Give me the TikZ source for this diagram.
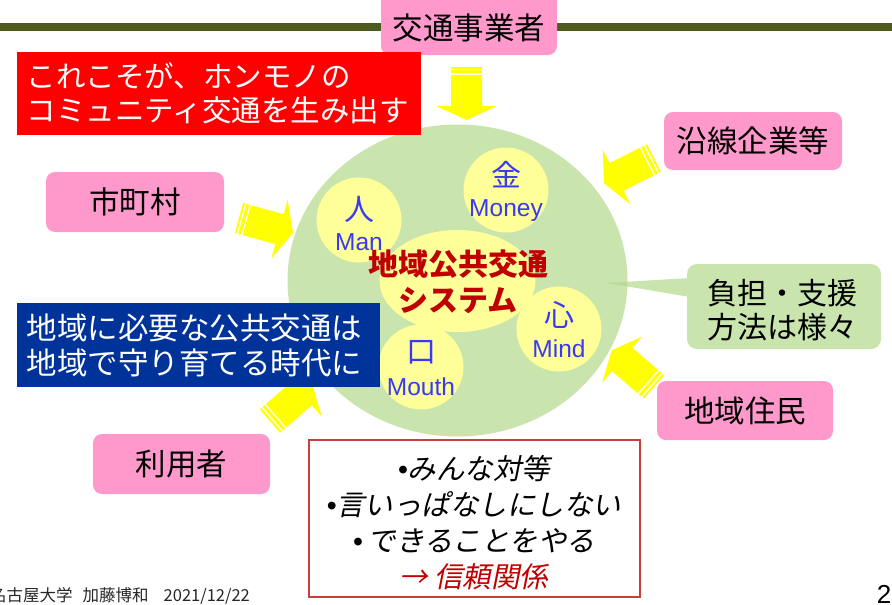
\documentclass[tikz,border=0pt]{standalone}
\usepackage{fontspec}
\setmainfont{Liberation Sans}
\newfontfamily\jp{Noto Sans CJK JP}
\newfontfamily\jpit[FakeSlant=0.2]{Noto Sans CJK JP}
\usetikzlibrary{shapes.geometric}
\definecolor{pinkc}{HTML}{FF99CC}
\definecolor{rulegreen}{HTML}{4E5B1F}
\definecolor{circgreen}{HTML}{C9E4AC}
\definecolor{calldark}{HTML}{B9DA98}
\definecolor{yelc}{HTML}{FFFF99}
\definecolor{arrowyellow}{HTML}{FFFF00}
\definecolor{bluebox}{HTML}{003399}
\definecolor{bluetext}{HTML}{3A3AF5}
\definecolor{centralred}{HTML}{C00000}
\definecolor{bordercol}{HTML}{C8403C}
\definecolor{mottored}{HTML}{C00000}
\newcommand\jpfs{\jp\fontsize{30.5}{35}\selectfont}
\newcommand\bul{{\rmfamily\itshape •}}
\newcommand\yarrow[4]{%
\begin{scope}[shift={(#1,#2)},rotate=#3]
 \fill[arrowyellow] (0,-15.5) rectangle (2,15.5);
 \fill[arrowyellow] (3.6,-15.5) rectangle (6.6,15.5);
 \fill[arrowyellow] (8.2,-15.5) -- (#4-14,-15.5) -- (#4-14,-30.5) -- (#4,0) -- (#4-14,30.5) -- (#4-14,15.5) -- (8.2,15.5) -- cycle;
\end{scope}}
\begin{document}
\begin{tikzpicture}[x=1pt,y=-1pt,
  pinkbox/.style={rectangle, rounded corners=9pt, fill=pinkc, inner sep=0pt, font=\jpfs, text=black},
  yelcirc/.style={circle, fill=yelc, minimum size=85pt, inner sep=0pt},
  kanjiT/.style={font=\jp\fontsize{30}{32}\selectfont, text=bluetext, inner sep=0pt},
  engT/.style={font=\fontsize{24.5}{26}\selectfont, text=bluetext, inner sep=0pt}]
\useasboundingbox (0,0) rectangle (892,605);
\clip (0,0) rectangle (892,605);
\fill[white] (0,0) rectangle (892,605);
% top rule
\fill[rulegreen] (0,23) rectangle (892,31);
% main region
\node[ellipse, fill=circgreen, minimum width=340pt, minimum height=312pt, inner sep=0pt] (region) at (457.5,280.5) {};
\node[yelcirc] (man) at (359,220) {};
\node[yelcirc] (money) at (506,190) {};
\node[yelcirc] (mind) at (559,329) {};
\node[yelcirc] (mouth) at (421,367) {};
\node[ellipse, fill=yelc, minimum width=156pt, minimum height=102pt, inner sep=0pt] (core) at (457.5,281) {};
\node[kanjiT] (manK) at (359,209) {人};
\node[engT] (manE) at (359,242) {Man};
\node[kanjiT] (moneyK) at (506,175) {金};
\node[engT] (moneyE) at (506,211) {Money};
\node[kanjiT] (mindK) at (559,315) {心};
\node[engT] (mindE) at (559,349) {Mind};
\node[kanjiT] (mouthK) at (421,352) {口};
\node[engT] (mouthE) at (421,387) {Mouth};
\node[font=\jp\bfseries\fontsize{30}{36}\selectfont, text=centralred, align=center, inner sep=0pt] (coreT) at (458,282) {地域公共交通\\システム};
% callout
\fill[circgreen, rounded corners=10pt] (687,264) rectangle (881,349);
\fill[circgreen] (690,278) -- (607,283) -- (690,297) -- cycle;
\begin{scope}
 \clip (457.5,280.5) ellipse [x radius=170, y radius=156];
 \fill[calldark] (690,278) -- (607,283) -- (690,297) -- cycle;
\end{scope}
\node[font=\jp\fontsize{30}{34}\selectfont, align=center, inner sep=0pt] (calloutT) at (782,310) {負担・支援\\方法は様々};
% arrows
\yarrow{466.5}{66.7}{-90}{53.3}
\yarrow{654}{158}{206.8}{56}
\yarrow{239}{218}{-15.4}{56}
\yarrow{654}{387}{139.1}{56}
\yarrow{270}{421}{40.9}{56}
% pink boxes
\node[pinkbox, minimum width=176pt, minimum height=66pt] (jigyo) at (469,22) {};
\node[font=\jpfs, inner sep=0pt] (jigyoT) at (469,28) {交通事業者};
\node[pinkbox, minimum width=178pt, minimum height=58pt] (ensen) at (753,141) {沿線企業等};
\node[pinkbox, minimum width=178pt, minimum height=60pt] (shichoson) at (135,202) {市町村};
\node[pinkbox, minimum width=176pt, minimum height=59pt] (jumin) at (745,410.5) {地域住民};
\node[pinkbox, minimum width=177pt, minimum height=60pt] (riyosha) at (181.5,464) {利用者};
% message boxes
\node[fill=red, text=white, minimum height=83pt, text width=384pt, inner xsep=10pt, inner ysep=0pt, align=left, font=\jp\fontsize{29.5}{34}\selectfont] (redmsg) at (219,93.5) {これこそが、ホンモノの\\コミュニティ交通を生み出す};
\node[fill=bluebox, text=white, minimum height=84pt, text width=343pt, inner xsep=10pt, inner ysep=0pt, align=left, font=\jp\fontsize{30.5}{35}\selectfont] (bluemsg) at (198.5,345) {地域に必要な公共交通は\\地域で守り育てる時代に};
% motto box
\node[draw=bordercol, line width=1.2pt, fill=white, minimum width=331pt, minimum height=157pt, inner sep=0pt] (mottobox) at (474.5,518.5) {};
\node[font=\jpit\fontsize{28.5}{36}\selectfont, align=center, inner sep=0pt] (motto) at (474,523) {\bul みんな対等\\\bul 言いっぱなしにしない\\\bul\,できることをやる\\\textcolor{mottored}{→ 信頼関係}};
% footer
\node[anchor=west, font=\jp\fontsize{16.5}{18}\selectfont, text=black!85, inner sep=0pt] (footer) at (-10,596) {名古屋大学\hspace{10pt}加藤博和\hspace{15pt}2021/12/22};
\node[font=\fontsize{26}{28}\selectfont, inner sep=0pt] (pageno) at (884,594) {2};
\end{tikzpicture}
\end{document}
